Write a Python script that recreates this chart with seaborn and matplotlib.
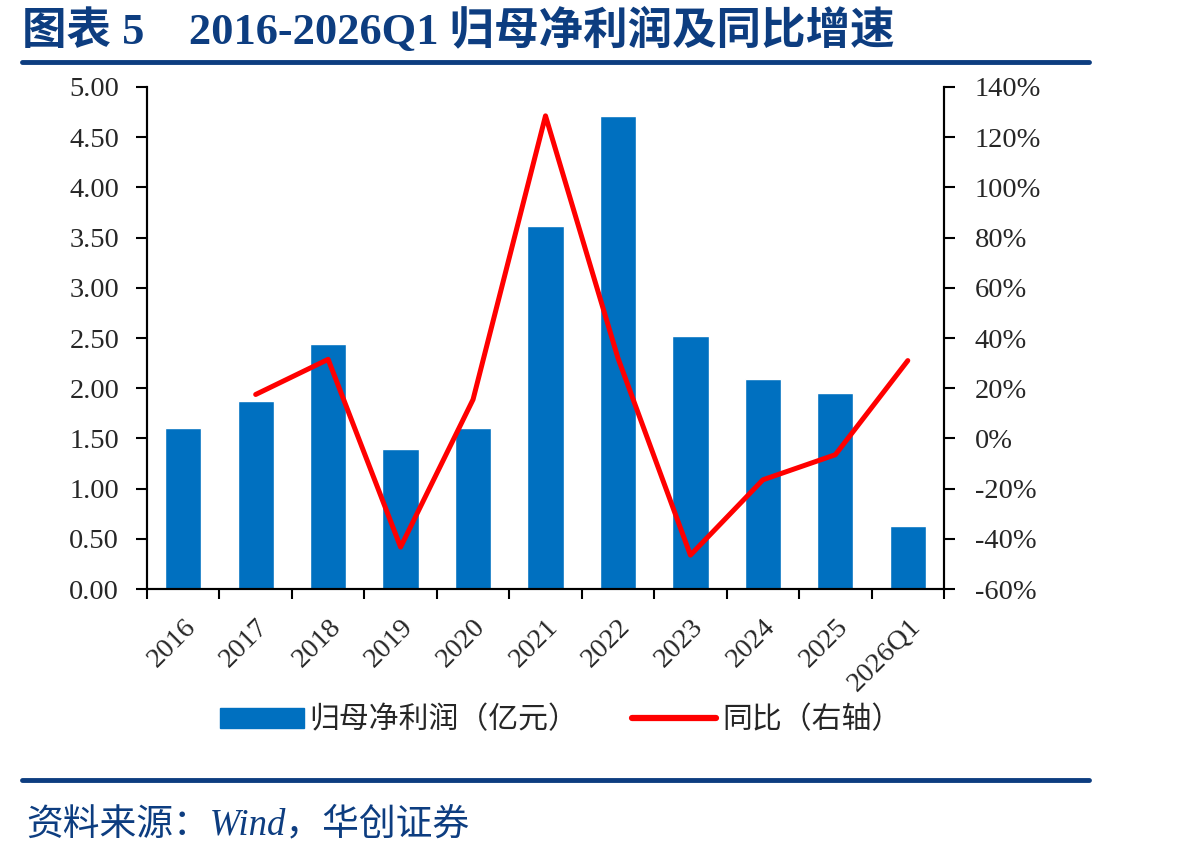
import numpy as np
import pandas as pd
import seaborn as sns
import matplotlib.pyplot as plt
from matplotlib.patches import Patch
from matplotlib.lines import Line2D

# Dados
anos = ['2016', '2017', '2018', '2019', '2020', '2021', '2022', '2023', '2024', '2025', '2026Q1']
lucro = [1.60, 1.87, 2.44, 1.39, 1.60, 3.62, 4.71, 2.52, 2.09, 1.95, 0.63]
# crescimento anual (%), sem valor em 2016
yoy = [None, 17.5, 31.5, -43.3, 15.5, 128.5, 32.0, -46.5, -16.5, -6.5, 31.0]

titulo = '图表 5    2016-2026Q1 归母净利润及同比增速'
fonte = '资料来源：Wind，华创证券'
leg_barra = '归母净利润（亿元）'
leg_linha = '同比（右轴）'

sns.set_theme(style='white')
plt.rcParams['font.family'] = ['Liberation Serif', 'Noto Sans CJK SC', 'DejaVu Sans']
plt.rcParams['axes.unicode_minus'] = False

azul = '#0070C0'
vermelho = '#FF0000'
azul_escuro = '#0D3D80'
fs_tick = 20.5

df = pd.DataFrame({'ano': anos, 'lucro': lucro})
df_yoy = pd.DataFrame({'pos': np.arange(len(anos)), 'yoy': yoy}).dropna()

fig = plt.figure(figsize=(11.98, 8.57), dpi=100)
ax = fig.add_axes([0.1227, 0.3127, 0.6653, 0.5858])

sns.barplot(data=df, x='ano', y='lucro', color=azul, width=0.5, saturation=1, ax=ax)
ax.set_ylim(0, 5)
ax.set_yticks(np.arange(0, 5.01, 0.5))
ax.set_yticklabels([f'{v:.2f}' for v in np.arange(0, 5.01, 0.5)], fontsize=fs_tick)
ax.set_xlim(-0.5, len(anos) - 0.5)
ax.set_xlabel('')
ax.set_ylabel('')

# ticks nas fronteiras, rótulos no centro
ax.set_xticks(np.arange(-0.5, len(anos)), labels=[''] * (len(anos) + 1))
ax.set_xticks(np.arange(len(anos)), labels=anos, minor=True)
ax.tick_params(axis='x', which='minor', length=0, labelsize=fs_tick, labelrotation=45, pad=18)
for lab in ax.get_xticklabels(minor=True):
    lab.set_ha('right')
    lab.set_rotation_mode('anchor')
ax.tick_params(axis='x', which='major', direction='out', length=7, width=1.5, color='black', bottom=True)
ax.tick_params(axis='y', direction='out', length=8, width=1.5, color='black', left=True,
               labelsize=fs_tick, pad=12)

ax2 = ax.twinx()
sns.lineplot(data=df_yoy, x='pos', y='yoy', color=vermelho, linewidth=3.6, ax=ax2)
ax2.set_ylim(-60, 140)
ax2.set_yticks(np.arange(-60, 141, 20))
ax2.set_yticklabels([f'{v}%' for v in range(-60, 141, 20)], fontsize=fs_tick)
ax2.set_ylabel('')
ax2.set_xlabel('')
ax2.tick_params(axis='y', direction='out', length=8, width=1.5, color='black', right=True, pad=14)

for a in (ax, ax2):
    a.spines['top'].set_visible(False)
    for s in ('left', 'right', 'bottom'):
        a.spines[s].set_color('black')
        a.spines[s].set_linewidth(1.5)

# Legenda
handles = [Patch(facecolor=azul, edgecolor=azul),
           Line2D([0], [0], color=vermelho, linewidth=4.5)]
fig.legend(handles, [leg_barra, leg_linha], loc='center', bbox_to_anchor=(0.468, 0.16),
           ncol=2, frameon=False, handlelength=2.8, handleheight=0.65,
           handletextpad=0.2, columnspacing=1.8,
           prop={'family': ['Noto Sans CJK SC'], 'size': 21.5})

# Título e linhas
fig.text(0.018, 0.965, titulo, fontsize=32, fontweight='bold', color=azul_escuro, va='center', ha='left')
fig.add_artist(Line2D([0.018, 0.909], [0.928, 0.928], color=azul_escuro, linewidth=3.5))
fig.add_artist(Line2D([0.018, 0.909], [0.09, 0.09], color=azul_escuro, linewidth=3.5))
fig.text(0.022, 0.037, fonte, fontsize=26.5, style='italic', color=azul_escuro, va='center', ha='left')

plt.savefig('out.png', dpi=100)
